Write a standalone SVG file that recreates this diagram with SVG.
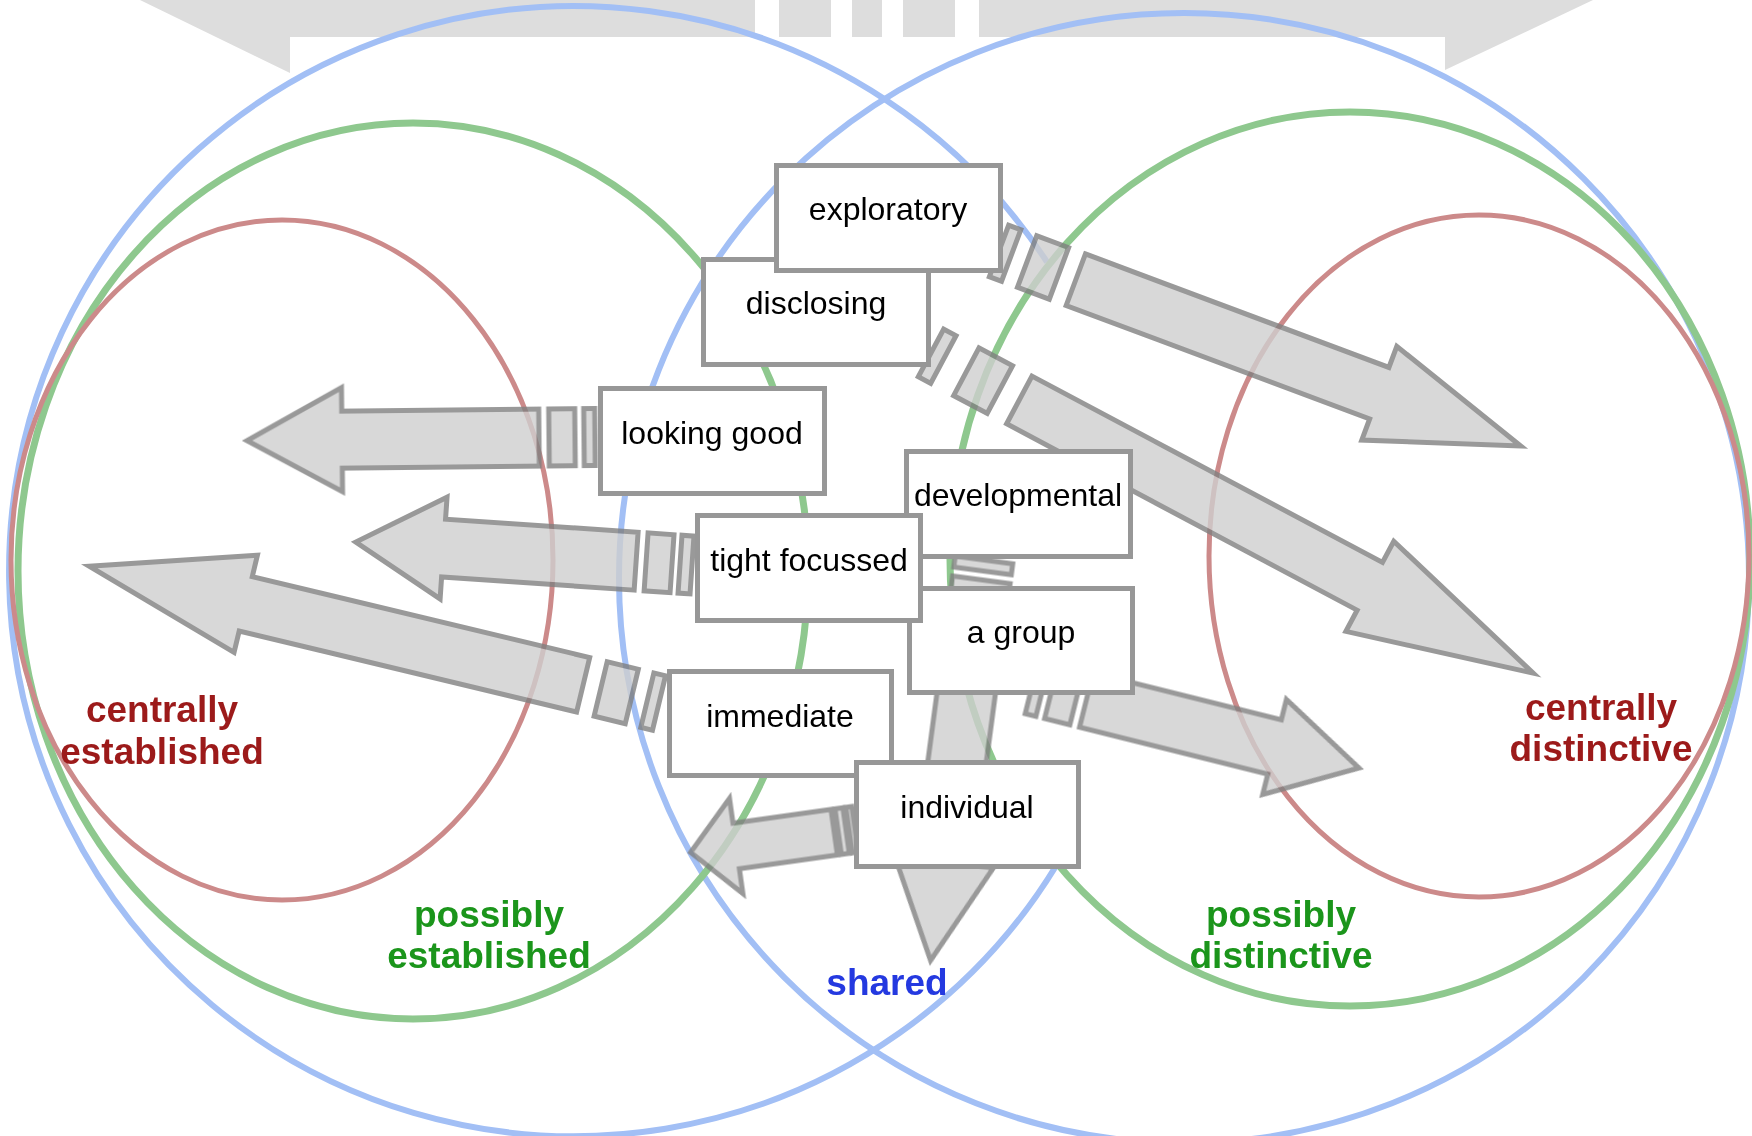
<svg xmlns="http://www.w3.org/2000/svg" width="1752" height="1136" viewBox="0 0 1752 1136">
<style>
.bg{fill:#dddddd;stroke:none}
.ring{fill:none}
.blue{stroke:#a2bff5;stroke-width:6}
.green{stroke:#8ec88e;stroke-width:7}
.red{stroke:#cc8a8a;stroke-width:5}
.ar rect,.ar path{fill:#cfcfcf;stroke:#808080;stroke-width:5;stroke-linejoin:miter}
.box rect{fill:#ffffff;stroke:#979797;stroke-width:5}
.box text{font-family:"Liberation Sans",Arial,sans-serif;font-size:32px;fill:#000;text-anchor:middle}
.lbl{font-family:"Liberation Sans",Arial,sans-serif;font-size:37px;font-weight:bold;text-anchor:middle}
.dr{fill:#9c1a1a}
.dg{fill:#1b951b}
.db{fill:#2439e0}
</style>
<g id="backdrop">
<path class="bg" d="M140,0 L290,73 L290,37 L755,37 L755,0 Z"/>
<rect class="bg" x="779" y="0" width="52" height="37"/>
<rect class="bg" x="852" y="0" width="30" height="37"/>
<rect class="bg" x="903" y="0" width="52" height="37"/>
<path class="bg" d="M979,0 V37 H1445 V70 L1593,0 Z"/>
</g>
<g id="regions">
<path class="ring blue" d="M1047,262 A565,565 0 1 0 1056,866"/>
<circle class="ring blue" cx="1184" cy="578" r="565"/>
<ellipse class="ring green" cx="413" cy="571" rx="395" ry="448"/>
<ellipse class="ring green" cx="1350" cy="559" rx="400" ry="447"/>
<ellipse class="ring red" cx="282" cy="560" rx="271" ry="340"/>
<ellipse class="ring red" cx="1479" cy="556" rx="270" ry="341"/>
</g>
<g id="connectors" opacity="0.8">
<g class="ar" transform="translate(595,437) rotate(179.4)"><rect x="0" y="-28.5" width="11" height="57"/><rect x="20" y="-28.5" width="26" height="57"/><path d="M56,-28.5 H253 V-52 L348,0 L253,52 V28.5 H56 Z"/></g>
<g class="ar" transform="translate(692,565) rotate(183.9)"><rect x="0" y="-29" width="12" height="58"/><rect x="20" y="-29" width="26" height="58"/><path d="M56,-29 H249 V-51 L337,0 L249,51 V29 H56 Z"/></g>
<g class="ar" transform="translate(659,703) rotate(193.5)"><rect x="0" y="-28" width="12" height="56"/><rect x="28" y="-28" width="32" height="56"/><path d="M78,-28 H425 V-50 L586,0 L425,50 V28 H78 Z"/></g>
<g class="ar" transform="translate(999,251) rotate(20.5)"><rect x="0" y="-27.5" width="13" height="55"/><rect x="30" y="-27.5" width="34" height="55"/><path d="M82,-27.5 H406 V-50 L557,0 L406,50 V27.5 H82 Z"/></g>
<g class="ar" transform="translate(931,353) rotate(28)"><rect x="0" y="-27" width="14" height="54"/><rect x="40" y="-27" width="38" height="54"/><path d="M100,-27 H497 V-51 L682,0 L497,51 V27 H100 Z"/></g>
<g class="ar" transform="translate(984,560) rotate(97.6)"><rect x="0" y="-29" width="11" height="58"/><rect x="20" y="-29" width="26" height="58"/><path d="M56,-29 H304 V-50 L404,0 L304,50 V29 H56 Z"/></g>
<g class="ar" transform="translate(1032,686.5) rotate(14)"><rect x="0" y="-28" width="11" height="56"/><rect x="20" y="-28" width="26" height="56"/><path d="M56,-28 H250 V-49 L337,0 L250,49 V28 H56 Z"/></g>
<g class="ar" transform="translate(857,829) rotate(172)"><rect x="2" y="-23" width="6" height="46"/><rect x="11" y="-23" width="8" height="46"/><path d="M23,-23 H122 V-48 L168,0 L122,48 V23 H23 Z"/></g>
</g>
<g id="node-disclosing" class="box"><rect x="703.5" y="259.5" width="225" height="105"/><text x="816" y="314">disclosing</text></g>
<g id="node-exploratory" class="box"><rect x="776.5" y="165.5" width="224" height="105"/><text x="888" y="220">exploratory</text></g>
<g id="node-looking-good" class="box"><rect x="600.5" y="388.5" width="224" height="105"/><text x="712" y="444">looking good</text></g>
<g id="node-developmental" class="box"><rect x="906.5" y="451.5" width="224" height="105"/><text x="1018" y="506">developmental</text></g>
<g id="node-a-group" class="box"><rect x="909.5" y="588.5" width="223" height="104"/><text x="1021" y="643">a group</text></g>
<g id="node-tight-focussed" class="box"><rect x="697.5" y="515.5" width="223" height="105"/><text x="809" y="571">tight focussed</text></g>
<g id="node-immediate" class="box"><rect x="669.5" y="671.5" width="222" height="104"/><text x="780" y="727">immediate</text></g>
<g id="node-individual" class="box"><rect x="856.5" y="762.5" width="222" height="104"/><text x="967" y="818">individual</text></g>
<g id="labels">
<text class="lbl dr" x="162" y="722">centrally</text>
<text class="lbl dr" x="162" y="764">established</text>
<text class="lbl dr" x="1601" y="720">centrally</text>
<text class="lbl dr" x="1601" y="761">distinctive</text>
<text class="lbl dg" x="489" y="927">possibly</text>
<text class="lbl dg" x="489" y="968">established</text>
<text class="lbl dg" x="1281" y="927">possibly</text>
<text class="lbl dg" x="1281" y="968">distinctive</text>
<text class="lbl db" x="887" y="995">shared</text>
</g>
</svg>
